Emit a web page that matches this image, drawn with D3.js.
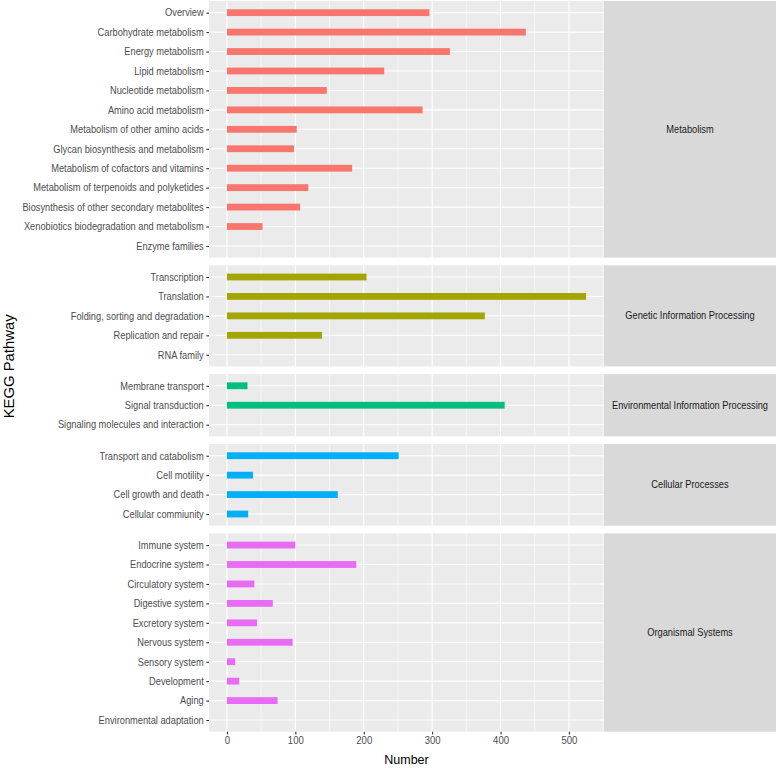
<!DOCTYPE html>
<html><head><meta charset="utf-8">
<script src="https://cdn.jsdelivr.net/npm/d3@7"></script>
<style>body{margin:0;background:#fff}svg{display:block}text{font-family:"Liberation Sans",Arial,sans-serif}</style>
</head><body><svg id="c" width="778" height="768"></svg>
<script>
const groups = ["Metabolism","Genetic Information Processing","Environmental Information Processing","Cellular Processes","Organismal Systems"];
const colors = ["#F8766D","#A3A500","#00BF7D","#00B0F6","#E76BF3"];
const metabolismCats = ["Overview","Carbohydrate metabolism","Energy metabolism","Lipid metabolism","Nucleotide metabolism","Amino acid metabolism","Metabolism of other amino acids","Glycan biosynthesis and metabolism","Metabolism of cofactors and vitamins","Metabolism of terpenoids and polyketides","Biosynthesis of other secondary metabolites","Xenobiotics biodegradation and metabolism","Enzyme families"];
const metabolismVals = [296,437,326,230,146,286,102,98,183,119,107,52,0];
const geneticCats = ["Transcription","Translation","Folding, sorting and degradation","Replication and repair","RNA family"];
const geneticVals = [204,525,377,139,0];
const environmentalCats = ["Membrane transport","Signal transduction","Signaling molecules and interaction"];
const environmentalVals = [30,406,0];
const cellularCats = ["Transport and catabolism","Cell motility","Cell growth and death","Cellular commiunity"];
const cellularVals = [251,38,162,31];
const organismalCats = ["Immune system","Endocrine system","Circulatory system","Digestive system","Excretory system","Nervous system","Sensory system","Development","Aging","Environmental adaptation"];
const organismalVals = [100,189,40,67,44,96,12,18,74,0];
const xTicks = [0,100,200,300,400,500];
const xMinor = [50,150,250,350,450,550];

const panels = [
  {cats:metabolismCats, vals:metabolismVals},
  {cats:geneticCats, vals:geneticVals},
  {cats:environmentalCats, vals:environmentalVals},
  {cats:cellularCats, vals:cellularVals},
  {cats:organismalCats, vals:organismalVals}
];

const SQUEEZE = 0.93;
function condense(sel, f, maxW) {
  sel.each(function() {
    let len = this.getComputedTextLength() * f;
    if (maxW && len > maxW) len = maxW;
    d3.select(this).attr("textLength", len).attr("lengthAdjust", "spacingAndGlyphs");
  });
}

const svg = d3.select("#c");
const L = 209, R = 604, SR = 776, TOP = 1, BOTTOM = 731.7, GAP = 7.7;
const maxV = d3.max(panels.flatMap(p=>p.vals));
const x = d3.scaleLinear().domain([-0.05*maxV, 1.05*maxV]).range([L, R]);

const totalUnits = d3.sum(panels, p => p.cats.length + 0.2);
const unit = (BOTTOM - TOP - GAP*(panels.length-1)) / totalUnits;

let y0 = TOP;
panels.forEach((p, i) => {
  const h = (p.cats.length + 0.2) * unit;
  const y = d3.scalePoint().domain(p.cats).range([y0 + 0.6*unit, y0 + h - 0.6*unit]);
  const g = svg.append("g");
  g.append("rect").attr("x", L).attr("y", y0).attr("width", R-L).attr("height", h).attr("fill", "#EBEBEB");
  g.selectAll(".mn").data(xMinor.filter(v=>x(v)<R)).join("line")
    .attr("x1", d=>x(d)).attr("x2", d=>x(d)).attr("y1", y0).attr("y2", y0+h)
    .attr("stroke", "#fff").attr("stroke-width", 0.55);
  g.selectAll(".mj").data(xTicks).join("line")
    .attr("x1", d=>x(d)).attr("x2", d=>x(d)).attr("y1", y0).attr("y2", y0+h)
    .attr("stroke", "#fff").attr("stroke-width", 1.1);
  g.selectAll(".hy").data(p.cats).join("line")
    .attr("x1", L).attr("x2", R).attr("y1", d=>y(d)).attr("y2", d=>y(d))
    .attr("stroke", "#fff").attr("stroke-width", 1.1);
  const bw = 0.35*unit;
  g.selectAll(".bar").data(p.cats.map((c,j)=>({c, v:p.vals[j]})).filter(d=>d.v>0)).join("rect")
    .attr("x", x(0)).attr("y", d=>y(d.c)-bw/2).attr("width", d=>x(d.v)-x(0)).attr("height", bw)
    .attr("fill", colors[i]);
  const ax = g.append("g").attr("transform", `translate(${L},0)`)
    .call(d3.axisLeft(y).tickSize(2.7).tickPadding(2.6));
  ax.select(".domain").remove();
  ax.selectAll(".tick line").attr("stroke", "#333").attr("stroke-width", 1.1);
  ax.selectAll(".tick text").attr("fill", "#4D4D4D").attr("font-family", null).style("font-size", "10.3px");
  condense(ax.selectAll(".tick text"), 0.9);
  g.append("rect").attr("x", R).attr("y", y0).attr("width", SR-R).attr("height", h).attr("fill", "#D9D9D9");
  const st = g.append("text").attr("x", (R+SR)/2).attr("y", y0+h/2).attr("dy", "0.35em")
    .attr("text-anchor", "middle").attr("fill", "#1A1A1A").style("font-size", "10.3px").text(groups[i]);
  condense(st, 0.9, 156);
  y0 += h + GAP;
});

const xa = svg.append("g").attr("transform", `translate(0,${BOTTOM})`)
  .call(d3.axisBottom(x).tickValues(xTicks).tickSize(2.7).tickPadding(2.6));
xa.select(".domain").remove();
xa.selectAll(".tick line").attr("stroke", "#333").attr("stroke-width", 1.1);
xa.selectAll(".tick text").attr("fill", "#4D4D4D").attr("font-family", null).style("font-size", "10.3px");
condense(xa.selectAll(".tick text"), 0.93);

svg.append("text").attr("x", (L+R)/2).attr("y", 764).attr("text-anchor", "middle")
  .style("font-size", "12.5px").attr("fill", "#000").text("Number");
const yt = svg.append("text").attr("transform", `translate(14,${(TOP+BOTTOM)/2}) rotate(-90)`)
  .attr("text-anchor", "middle").style("font-size", "14px").attr("fill", "#000").text("KEGG Pathway");
yt.attr("textLength", 104).attr("lengthAdjust", "spacingAndGlyphs");
</script></body></html>
